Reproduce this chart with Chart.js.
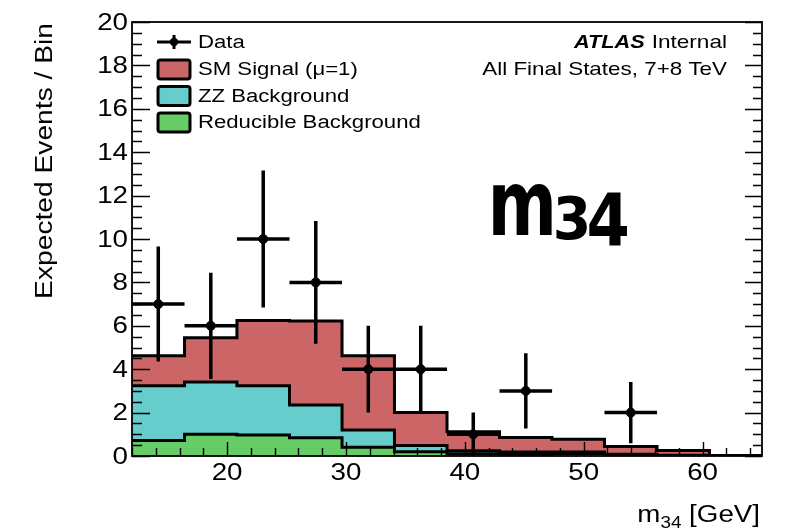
<!DOCTYPE html>
<html>
<head>
<meta charset="utf-8">
<script src="https://cdn.jsdelivr.net/npm/chart.js@4/dist/chart.umd.min.js"></script>
<style>
  html, body { margin: 0; padding: 0; background: #ffffff; }
  #c { display: block; }
</style>
</head>
<body>
<canvas id="c" width="792" height="531"></canvas>
<script>
// ---------------- data ----------------
const binEdges   = [12, 16.42, 20.83, 25.25, 29.67, 34.08, 38.5, 42.92, 47.33, 51.75, 56.17, 60.58, 65];
const reducible  = [0.71, 1.00, 0.97, 0.84, 0.40, 0.20, 0.10, 0.08, 0.12, 0.04, 0.02, 0.00];
const zzBkg      = [2.53, 2.41, 2.27, 1.51, 0.80, 0.28, 0.14, 0.10, 0.06, 0.04, 0.02, 0.01];
const smSignal   = [1.38, 2.04, 3.00, 3.87, 3.42, 1.52, 0.88, 0.67, 0.59, 0.36, 0.21, 0.01];
const dataX      = [14.21, 18.63, 23.04, 27.46, 31.88, 36.29, 40.71, 45.13, 53.96];
const dataY      = [7, 6, 10, 8, 4, 4, 1, 3, 2];
const dataYErr   = [2.65, 2.45, 3.16, 2.83, 2.00, 2.00, 1.00, 1.73, 1.41];
const dataXErr   = [2.21, 2.21, 2.21, 2.21, 2.21, 2.21, 2.21, 2.21, 2.21];
const xTicks     = [20, 30, 40, 50, 60];
const yTicks     = [0, 2, 4, 6, 8, 10, 12, 14, 16, 18, 20];
const legendLabels = ['Data', 'SM Signal (\u03bc=1)', 'ZZ Background', 'Reducible Background'];

const COL_SIG = '#cc6666', COL_ZZ = '#66cccc', COL_RED = '#66cc66';
const FONT = '"Liberation Sans", Arial, Helvetica, sans-serif';

// points at each bin's lower edge plus one closing point at the upper edge
function steps(vals) {
  return binEdges.map((e, i) => ({ x: e, y: vals[Math.min(i, vals.length - 1)] }));
}

function txt(ctx, s, x, y, size, sx, align, style) {
  ctx.save();
  ctx.translate(x, y);
  ctx.scale(sx, 1);
  ctx.font = (style ? style + ' ' : '') + size + 'px ' + FONT;
  ctx.textAlign = align || 'left';
  ctx.textBaseline = 'alphabetic';
  ctx.fillStyle = '#000';
  ctx.fillText(s, 0, 0);
  const w = ctx.measureText(s).width * sx;
  ctx.restore();
  return w;
}

function fitText(ctx, s, font, l, t, r, b) {
  ctx.save();
  ctx.font = font;
  const m = ctx.measureText(s);
  const w = m.actualBoundingBoxLeft + m.actualBoundingBoxRight;
  const h = m.actualBoundingBoxAscent + m.actualBoundingBoxDescent;
  ctx.translate(l, t);
  ctx.scale((r - l) / w, (b - t) / h);
  ctx.fillStyle = '#000';
  ctx.textAlign = 'left';
  ctx.textBaseline = 'alphabetic';
  ctx.fillText(s, m.actualBoundingBoxLeft, m.actualBoundingBoxAscent);
  ctx.restore();
}

const rootStyle = {
  id: 'rootStyle',
  afterDatasetsDraw(chart) {
    const ctx = chart.ctx;
    const xs = chart.scales.x, ys = chart.scales.y;
    // error bars
    ctx.save();
    ctx.strokeStyle = '#000';
    ctx.lineWidth = 3.5;
    ctx.lineCap = 'butt';
    for (let i = 0; i < dataX.length; i++) {
      const px = xs.getPixelForValue(dataX[i]);
      const py = ys.getPixelForValue(dataY[i]);
      ctx.beginPath();
      ctx.moveTo(xs.getPixelForValue(dataX[i] - dataXErr[i]), py);
      ctx.lineTo(xs.getPixelForValue(dataX[i] + dataXErr[i]), py);
      ctx.moveTo(px, ys.getPixelForValue(dataY[i] - dataYErr[i]));
      ctx.lineTo(px, ys.getPixelForValue(dataY[i] + dataYErr[i]));
      ctx.stroke();
    }
    ctx.restore();
  },
  afterDraw(chart) {
    const ctx = chart.ctx;
    const a = chart.chartArea;
    const xs = chart.scales.x, ys = chart.scales.y;
    ctx.save();
    // frame
    ctx.strokeStyle = '#000';
    ctx.lineWidth = 1.8;
    ctx.strokeRect(a.left, a.top, a.right - a.left, a.bottom - a.top);
    // y ticks (left and right)
    ctx.lineWidth = 1.4;
    ctx.beginPath();
    for (let v = yTicks[0]; v <= yTicks[yTicks.length - 1] + 1e-6; v += 0.5) {
      const py = Math.round(ys.getPixelForValue(v)) + 0.5;
      const major = yTicks.some(t => Math.abs(t - v) < 1e-6);
      const len = major ? 18 : 10;
      ctx.moveTo(a.left, py); ctx.lineTo(a.left + len, py);
      ctx.moveTo(a.right, py); ctx.lineTo(a.right - (major ? 17 : 9), py);
    }
    // x ticks (bottom)
    for (let v = 12; v <= 65 + 1e-6; v += 2) {
      const px = Math.round(xs.getPixelForValue(v)) + 0.5;
      const major = xTicks.some(t => Math.abs(t - v) < 1e-6);
      ctx.moveTo(px, a.bottom); ctx.lineTo(px, a.bottom - (major ? 14 : 8));
    }
    ctx.stroke();
    ctx.restore();

    // tick labels
    yTicks.forEach(v => {
      txt(ctx, String(v), 128, ys.getPixelForValue(v) + 7.5, 23.5, 1.18, 'right');
    });
    xTicks.forEach(v => {
      txt(ctx, String(v), xs.getPixelForValue(v), 480, 23.5, 1.18, 'center');
    });

    // axis titles
    ctx.save();
    ctx.translate(52, 23);
    ctx.rotate(-Math.PI / 2);
    ctx.scale(1.2, 1);
    ctx.font = '23.5px ' + FONT;
    ctx.textAlign = 'right';
    ctx.textBaseline = 'alphabetic';
    ctx.fillStyle = '#000';
    ctx.fillText('Expected Events / Bin', 0, 0);
    ctx.restore();

    // x title: m_34 [GeV], right aligned at 760
    {
      const size = 23.5, sx = 1.18, subSize = 16;
      ctx.save();
      ctx.font = size + 'px ' + FONT;
      const wM = ctx.measureText('m').width * sx;
      const wR = ctx.measureText(' [GeV]').width * sx;
      ctx.font = subSize + 'px ' + FONT;
      const wS = ctx.measureText('34').width * sx;
      ctx.restore();
      let x0 = 760 - (wM + wS + wR);
      const base = 522;
      txt(ctx, 'm', x0, base, size, sx, 'left');
      txt(ctx, '34', x0 + wM, base + 6, subSize, sx, 'left');
      txt(ctx, ' [GeV]', x0 + wM + wS, base, size, sx, 'left');
    }

    // legend
    ctx.save();
    ctx.strokeStyle = '#000';
    ctx.lineWidth = 3;
    ctx.beginPath();
    ctx.moveTo(157, 42); ctx.lineTo(191, 42);
    ctx.moveTo(174, 35); ctx.lineTo(174, 49);
    ctx.stroke();
    ctx.fillStyle = '#000';
    ctx.beginPath(); ctx.arc(174, 42, 4.2, 0, Math.PI * 2); ctx.fill();
    const boxes = [[COL_SIG, 60], [COL_ZZ, 86.5], [COL_RED, 113]];
    boxes.forEach(([c, y]) => {
      ctx.fillStyle = c;
      ctx.beginPath();
      ctx.roundRect(158, y, 32, 19, 2.5);
      ctx.fill();
      ctx.stroke();
    });
    ctx.restore();
    const lbase = [48, 75, 101.5, 128];
    legendLabels.forEach((s, i) => txt(ctx, s, 198, lbase[i], 18, 1.23, 'left'));

    // ATLAS label
    const wI = txt(ctx, 'Internal', 727, 48, 17.8, 1.27, 'right');
    txt(ctx, 'ATLAS', 727 - wI - 7, 48, 17.8, 1.22, 'right', 'italic bold');
    txt(ctx, 'All Final States, 7+8 TeV', 727, 75, 17.8, 1.26, 'right');

    // handwritten annotation
    const hf = 'bold 100px "DejaVu Sans", sans-serif';
    ctx.save();
    fitText(ctx, 'm', hf, 493, 184, 552, 235);
    fitText(ctx, '3', hf, 556, 196, 587, 240);
    fitText(ctx, '4', hf, 589, 193, 627, 247);
    ctx.restore();
  }
};

const chart = new Chart(document.getElementById('c'), {
  type: 'line',
  data: {
    datasets: [
      { label: legendLabels[3], data: steps(reducible), stepped: 'before', fill: 'origin',
        backgroundColor: COL_RED, borderColor: '#000', borderWidth: 3, pointRadius: 0, stack: 'mc' },
      { label: legendLabels[2], data: steps(zzBkg), stepped: 'before', fill: '-1',
        backgroundColor: COL_ZZ, borderColor: '#000', borderWidth: 3, pointRadius: 0, stack: 'mc' },
      { label: legendLabels[1], data: steps(smSignal), stepped: 'before', fill: '-1',
        backgroundColor: COL_SIG, borderColor: '#000', borderWidth: 3, pointRadius: 0, stack: 'mc' },
      { label: legendLabels[0], type: 'scatter', data: dataX.map((x, i) => ({ x: x, y: dataY[i] })),
        pointRadius: 4.5, pointBackgroundColor: '#000', pointBorderColor: '#000', showLine: false,
        stack: 'data', order: -1 }
    ]
  },
  options: {
    responsive: false,
    animation: false,
    devicePixelRatio: 1,
    events: [],
    layout: { padding: { left: 132, right: 30, top: 22, bottom: 75 } },
    scales: {
      x: { type: 'linear', min: 12, max: 65, display: false },
      y: { type: 'linear', min: 0, max: 20, display: false, stacked: true }
    },
    plugins: {
      legend: { display: false },
      tooltip: { enabled: false },
      filler: { drawTime: 'beforeDatasetsDraw' }
    }
  },
  plugins: [rootStyle]
});
</script>
</body>
</html>
